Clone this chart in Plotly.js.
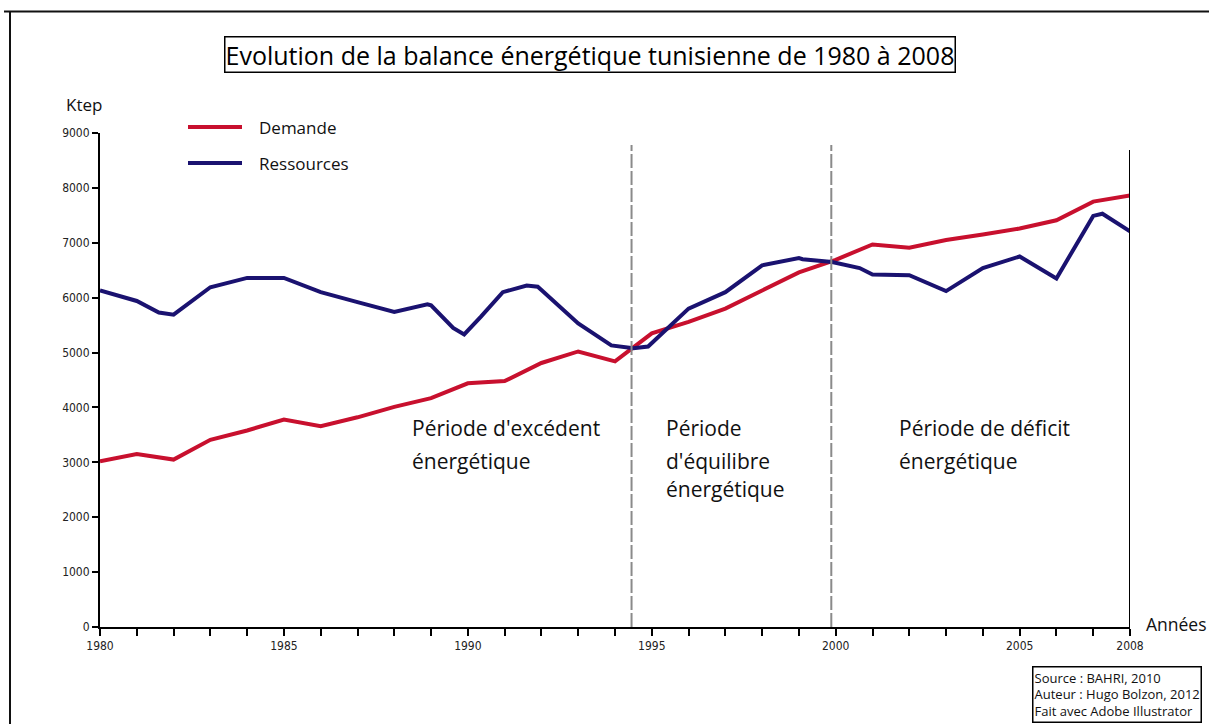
<!DOCTYPE html>
<html>
<head>
<meta charset="utf-8">
<script src="https://cdn.plot.ly/plotly-3.0.1.min.js"></script>
<style>
html,body{margin:0;padding:0;background:#fff;}
#chart{width:1209px;height:724px;}
</style>
</head>
<body>
<div id="chart"></div>
<script>
// ---- data ----
const years = [1980,1981,1982,1983,1984,1985,1986,1987,1988,1989,1990,1991,1992,1993,1994,1995,1996,1997,1998,1999,2000,2001,2002,2003,2004,2005,2006,2007,2008];
const demande = [3020,3150,3050,3410,3580,3780,3660,3820,4010,4170,4440,4480,4810,5020,4840,5350,5560,5800,6130,6460,6690,6970,6910,7050,7150,7260,7410,7750,7860];

const resYears = [1980,1981,1981.6,1982,1983,1984,1985,1986,1987,1988,1988.9,1989,1989.6,1989.9,1990.35,1990.95,1991.6,1991.9,1992,1993,1993.9,1994.5,1994.9,1996,1997,1998,1999,1999.1,1999.9,2000.65,2001,2002,2003,2004,2005,2006,2007,2007.25,2008];
const ressources = [6130,5940,5730,5690,6190,6360,6360,6100,5920,5740,5880,5860,5450,5330,5650,6100,6220,6200,6140,5530,5130,5080,5110,5800,6100,6590,6720,6700,6650,6540,6420,6410,6120,6540,6750,6350,7490,7530,7210];

const seriesNames = ["Demande","Ressources"];
const seriesColors = ["#c8102e","#1a1270"];

const xTickVals = years;
const xTickLabelled = [1980,1985,1990,1995,2000,2005,2008];
const yTickVals = [0,1000,2000,3000,4000,5000,6000,7000,8000,9000];

const periodBounds = [1994.45, 1999.88];
const periodLabelLines = [
  ["Période d'excédent","énergétique"],
  ["Période","d'équilibre","énergétique"],
  ["Période de déficit","énergétique"]
];
const periodLabelX = [1988.43, 1995.33, 2001.66];

const titleText = "Evolution de la balance énergétique tunisienne de 1980 à 2008";
const sourceText = "Source : BAHRI, 2010<br>Auteur : Hugo Bolzon, 2012<br>Fait avec Adobe Illustrator";

// ---- geometry helpers (pixel -> paper) ----
const W = 1209, H = 724, ML = 100, MR = 79, MT = 133, MB = 97;
const PW = W - ML - MR, PH = H - MT - MB;
const px = v => (v - ML) / PW;
const py = v => (H - MB - v) / PH;

const condensed = "'Liberation Sans Narrow', 'DejaVu Sans Condensed', 'Open Sans', sans-serif";
const humanist = "'Open Sans', 'Noto Sans', sans-serif";

const traces = [
  {x: years, y: demande, name: seriesNames[0], type: 'scatter', mode: 'lines',
   line: {color: seriesColors[0], width: 4}, showlegend: false, hoverinfo: 'x+y'},
  {x: resYears, y: ressources, name: seriesNames[1], type: 'scatter', mode: 'lines',
   line: {color: seriesColors[1], width: 4}, showlegend: false, hoverinfo: 'x+y'}
];

const shapes = [];
// outer frame (top and left)
shapes.push({type:'line', xref:'paper', yref:'paper', x0:px(4), x1:px(1209), y0:py(11.5), y1:py(11.5), line:{color:'#111', width:2}});
shapes.push({type:'line', xref:'paper', yref:'paper', x0:px(10), x1:px(10), y0:py(11.5), y1:py(724), line:{color:'#111', width:2}});
// period boundaries
periodBounds.forEach(b => shapes.push({type:'line', xref:'x', yref:'y', x0:b, x1:b, y0:0, y1:8780,
  line:{color:'#8a8a8a', width:2, dash:'14px,3px'}}));
// right axis line
shapes.push({type:'line', xref:'x', yref:'y', x0:years[years.length-1], x1:years[years.length-1], y0:0, y1:8690, line:{color:'#000', width:2}});
// legend lines
shapes.push({type:'line', xref:'paper', yref:'paper', x0:px(188), x1:px(242), y0:py(127), y1:py(127), line:{color:seriesColors[0], width:4}});
shapes.push({type:'line', xref:'paper', yref:'paper', x0:px(188), x1:px(242), y0:py(163), y1:py(163), line:{color:seriesColors[1], width:4}});

const annotations = [];
annotations.push({xref:'paper', yref:'paper', x:px(590), y:py(55), xanchor:'center', yanchor:'middle',
  text: titleText, showarrow:false, font:{family:humanist, size:25, color:'#000'},
  bordercolor:'#000', borderwidth:1.5, borderpad:0, bgcolor:'#fff'});
annotations.push({xref:'paper', yref:'paper', x:px(257), y:py(127), xanchor:'left', yanchor:'middle',
  text: seriesNames[0], showarrow:false, font:{family:humanist, size:17, color:'#111'}});
annotations.push({xref:'paper', yref:'paper', x:px(257), y:py(163), xanchor:'left', yanchor:'middle',
  text: seriesNames[1], showarrow:false, font:{family:humanist, size:17, color:'#111'}});
annotations.push({xref:'paper', yref:'paper', x:px(64), y:py(105), xanchor:'left', yanchor:'middle',
  text: 'Ktep', showarrow:false, font:{family:humanist, size:17, color:'#111'}});
annotations.push({xref:'paper', yref:'paper', x:px(1209), y:py(624), xanchor:'right', yanchor:'middle',
  text: 'Années', showarrow:false, font:{family:humanist, size:17.5, color:'#111'}});
const lineYpx = [428, 461, 489];
periodLabelLines.forEach((lines,i) => lines.forEach((t,j) => annotations.push({
  xref:'x', yref:'paper', x:periodLabelX[i], y:py(lineYpx[j]),
  xanchor:'left', yanchor:'middle', align:'left', text:t, showarrow:false,
  font:{family:humanist, size:21, color:'#111'}})));
annotations.push({xref:'paper', yref:'paper', x:px(1032), y:py(666), xanchor:'left', yanchor:'top', align:'left',
  text: sourceText, showarrow:false, font:{family:humanist, size:13, color:'#111'},
  bordercolor:'#000', borderwidth:1.5, borderpad:1, bgcolor:'#fff'});

const layout = {
  width: W, height: H,
  margin: {l: ML, r: MR, t: MT, b: MB, pad: 0},
  paper_bgcolor: '#fff', plot_bgcolor: '#fff',
  showlegend: false,
  xaxis: {
    range: [years[0], years[years.length-1]], showgrid: false, zeroline: false,
    showline: true, linecolor: '#000', linewidth: 2,
    ticks: 'outside', ticklen: 7, tickwidth: 2, tickcolor: '#000',
    tickvals: xTickVals,
    ticktext: xTickVals.map(v => xTickLabelled.includes(v) ? String(v) : ''),
    tickfont: {family: condensed, size: 12, color: '#222'}
  },
  yaxis: {
    range: [0, 9000], showgrid: false, zeroline: false,
    showline: true, linecolor: '#000', linewidth: 2,
    ticks: 'outside', ticklen: 6, tickwidth: 2, tickcolor: '#000',
    tickvals: yTickVals, ticktext: yTickVals.map(String),
    tickfont: {family: condensed, size: 12, color: '#222'}
  },
  shapes: shapes,
  annotations: annotations
};

Plotly.newPlot('chart', traces, layout, {displayModeBar: false, staticPlot: true});
</script>
</body>
</html>
